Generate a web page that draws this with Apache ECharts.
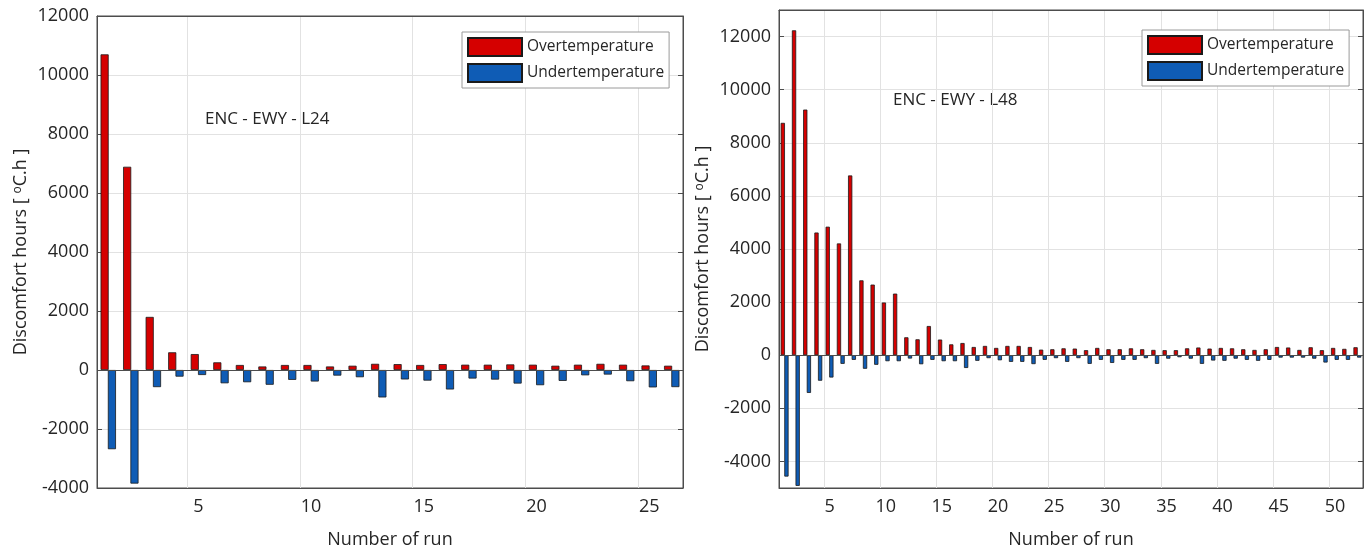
<!DOCTYPE html>
<html><head><meta charset="utf-8">
<script src="https://cdn.jsdelivr.net/npm/echarts@6/dist/echarts.min.js"></script>
<style>html,body{margin:0;padding:0;background:#fff}#c{width:1370px;height:554px}</style>
</head><body><div id="c"></div>
<script>
// ---- data ----
const runsL24 = Array.from({length: 26}, (_, i) => String(i + 1));
const overL24 = [10700, 6890, 1800, 600, 540, 260, 170, 120, 170, 170, 120, 145, 210, 200, 170, 200, 180, 180, 190, 180, 145, 180, 210, 180, 155, 145];
const underL24 = [-2685, -3850, -580, -225, -170, -450, -415, -500, -335, -390, -190, -245, -930, -320, -360, -660, -290, -325, -460, -515, -370, -180, -155, -380, -590, -580];

const runsL48 = Array.from({length: 52}, (_, i) => String(i + 1));
const overL48 = [8750, 12235, 9250, 4620, 4840, 4210, 6770, 2820, 2660, 1985, 2320, 675, 600, 1100, 590, 410, 460, 310, 350, 275,
  350, 350, 310, 210, 225, 260, 250, 190, 275, 225, 225, 260, 225, 200, 190, 190, 260, 290, 250, 275,
  260, 225, 200, 225, 310, 290, 200, 300, 190, 275, 240, 300];
const underL48 = [-4570, -4920, -1420, -960, -840, -325, -175, -510, -360, -225, -225, -125, -340, -175, -225, -225, -480, -210, -110, -190,
  -250, -250, -335, -175, -110, -250, -110, -325, -175, -290, -175, -175, -110, -325, -130, -75, -130, -325, -200, -210,
  -130, -175, -210, -175, -90, -90, -90, -130, -275, -175, -175, -90];

const yTicks = [-4000, -2000, 0, 2000, 4000, 6000, 8000, 10000, 12000];
const xTickStep = 5;
const seriesNames = ['Overtemperature', 'Undertemperature'];
const chartTitles = ['ENC - EWY - L24', 'ENC - EWY - L48'];
const axisTitleX = 'Number of run';
const axisTitleY = 'Discomfort hours [ {s|o}C.h ]';

// ---- styles ----
const FONT = 'Open Sans';
const TXT = '#262626';
const AX = '#4d4d4d';
const GRIDC = '#e2e2e2';
const RED = '#d50000';
const BLUE = '#0f5cb5';
const showTick = (idx, val) => Number(val) % xTickStep === 0;
const plain = v => String(v);

function xMain(gi, cats) {
  return {
    type: 'category', gridIndex: gi, data: cats, position: 'bottom',
    axisLine: {show: true, onZero: false, lineStyle: {color: AX, width: 1}},
    axisTick: {inside: true, length: 5, alignWithLabel: true, interval: showTick, lineStyle: {color: AX}},
    axisLabel: {interval: showTick, color: TXT, fontSize: 18, fontFamily: FONT, margin: 10},
    splitLine: {show: true, interval: showTick, lineStyle: {color: GRIDC}},
    name: axisTitleX, nameLocation: 'middle', nameGap: 43,
    nameTextStyle: {color: TXT, fontSize: 18, fontFamily: FONT}
  };
}
function xTop(gi, cats) {
  return {
    type: 'category', gridIndex: gi, data: cats, position: 'top',
    axisLine: {show: true, onZero: false, lineStyle: {color: AX, width: 1}},
    axisTick: {inside: true, length: 5, alignWithLabel: true, interval: showTick, lineStyle: {color: AX}},
    axisLabel: {show: false}, splitLine: {show: false}
  };
}
const yNameStyle = {
  color: TXT, fontSize: 18, fontFamily: FONT,
  rich: {s: {fontSize: 12, fontFamily: FONT, color: TXT, verticalAlign: 'top', lineHeight: 12, padding: [0, 0, 10, 0]}}
};
function yMain(gi, min, max, gap) {
  const o = {
    type: 'value', gridIndex: gi, min: min, max: max, position: 'left',
    axisLine: {show: true, onZero: false, lineStyle: {color: AX, width: 1}},
    axisTick: {show: true, inside: true, length: 5, lineStyle: {color: AX}},
    axisLabel: {color: TXT, fontSize: 18, fontFamily: FONT, margin: 8, formatter: plain},
    splitLine: {show: true, lineStyle: {color: GRIDC}},
    name: axisTitleY, nameLocation: 'middle', nameGap: gap, nameTextStyle: yNameStyle
  };
  if (min % 2000 === 0) {
    o.interval = 2000;
  } else {
    o.axisTick.customValues = yTicks;
    o.axisLabel.customValues = yTicks;
  }
  return o;
}
function yRight(gi, min, max) {
  const o = {
    type: 'value', gridIndex: gi, min: min, max: max, position: 'right',
    axisLine: {show: true, onZero: false, lineStyle: {color: AX, width: 1}},
    axisTick: {show: true, inside: true, length: 5, lineStyle: {color: AX}},
    axisLabel: {show: false}, splitLine: {show: false}
  };
  if (min % 2000 === 0) o.interval = 2000; else o.axisTick.customValues = yTicks;
  return o;
}
function bars(name, color, data, xi, yi, bw, gap, baseline) {
  const s = {
    type: 'bar', name: name, data: data, xAxisIndex: xi, yAxisIndex: yi,
    barWidth: bw, barGap: gap, z: 2,
    itemStyle: {color: color, borderColor: '#1a1a1a', borderWidth: 0.8},
    emphasis: {disabled: true}
  };
  if (baseline) {
    s.markLine = {
      silent: true, symbol: 'none', label: {show: false}, z: 3,
      lineStyle: {color: AX, width: 1, type: 'solid'},
      data: [{yAxis: 0}]
    };
  }
  return s;
}
function legend(left, top) {
  return {
    left: left, top: top, orient: 'vertical', icon: 'rect',
    itemWidth: 54, itemHeight: 18, itemGap: 6,
    padding: [5, 5, 5, 5], borderColor: '#9a9a9a', borderWidth: 1, backgroundColor: '#fff',
    textStyle: {color: TXT, fontSize: 15.5, fontFamily: FONT},
    data: seriesNames, selectedMode: false
  };
}

const chart = echarts.init(document.getElementById('c'), null, {renderer: 'canvas'});
chart.setOption({
  animation: false,
  backgroundColor: '#fff',
  grid: [
    {left: 97, top: 16, width: 586, height: 476, show: true, borderColor: AX, borderWidth: 1, backgroundColor: 'transparent'},
    {left: 779, top: 10, width: 584, height: 481, show: true, borderColor: AX, borderWidth: 1, backgroundColor: 'transparent'}
  ],
  xAxis: [xMain(0, runsL24), xTop(0, runsL24), xMain(1, runsL48), xTop(1, runsL48)],
  yAxis: [yMain(0, -4000, 12000, 58), yRight(0, -4000, 12000), yMain(1, -5000, 13000, 60), yRight(1, -5000, 13000)],
  legend: [legend(462, 32), legend(1142, 30)],
  series: [
    bars(seriesNames[0], RED, overL24, 0, 0, '36%', '-10%', true),
    bars(seriesNames[1], BLUE, underL24, 0, 0, '36%', '-10%', false),
    bars(seriesNames[0], RED, overL48, 2, 2, '38%', '-15%', true),
    bars(seriesNames[1], BLUE, underL48, 2, 2, '38%', '-15%', false)
  ],
  graphic: [
    {type: 'text', left: 205, top: 111, style: {text: chartTitles[0], fill: TXT, font: '17px "Open Sans"'}},
    {type: 'text', left: 893, top: 92, style: {text: chartTitles[1], fill: TXT, font: '17px "Open Sans"'}}
  ]
});
</script>
</body></html>
